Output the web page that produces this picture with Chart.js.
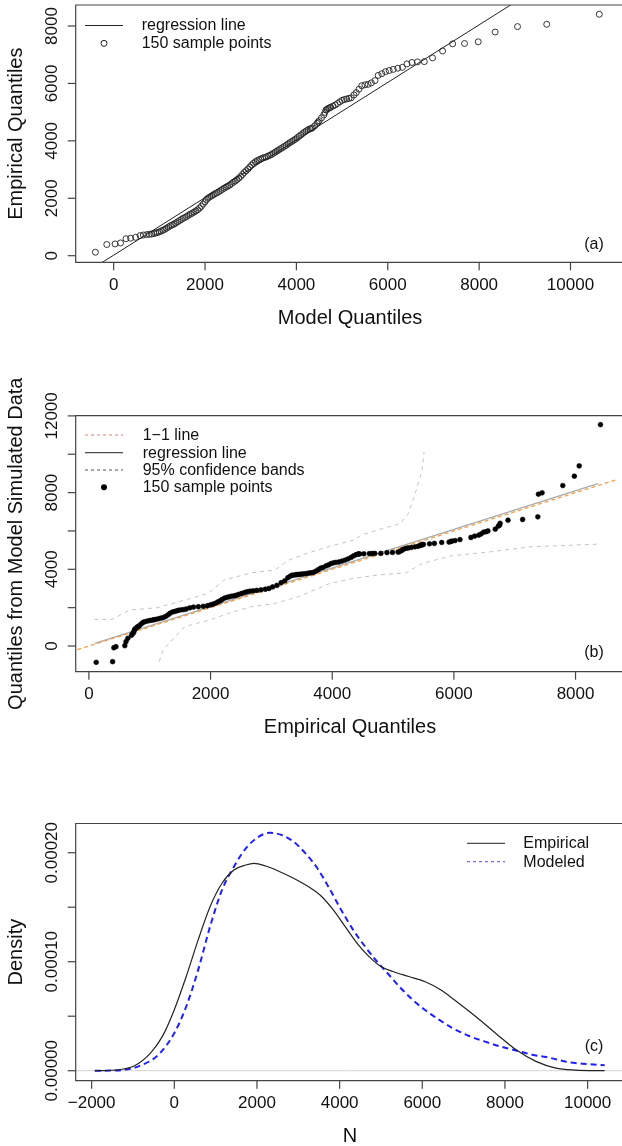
<!DOCTYPE html>
<html>
<head>
<meta charset="utf-8">
<script src="https://cdn.jsdelivr.net/npm/chart.js@4.4.0/dist/chart.umd.min.js"></script>
<style>
  html, body { margin: 0; padding: 0; background: #fff; }
  .panel { position: absolute; left: 0; width: 622px; }
  canvas { display: block; }
</style>
</head>
<body>
<div class="panel" style="top:0px"><canvas id="qqModel" width="622" height="340"></canvas></div>
<div class="panel" style="top:340px"><canvas id="qqSim" width="622" height="420"></canvas></div>
<div class="panel" style="top:760px"><canvas id="density" width="622" height="386"></canvas></div>
<script>
// ---- data ----
// (a) model quantiles vs empirical quantiles, 150 sample points
const modelQuantiles = [
  -400, -150, 30, 150, 270, 370, 480, 580, 650, 720,
  780, 830, 880, 920, 960, 1000, 1040, 1080, 1120, 1160,
  1200, 1240, 1280, 1320, 1360, 1400, 1440, 1480, 1520, 1560,
  1600, 1640, 1680, 1720, 1760, 1800, 1840, 1880, 1920, 1960,
  2000, 2030, 2060, 2100, 2140, 2180, 2220, 2260, 2300, 2340,
  2380, 2420, 2460, 2500, 2540, 2580, 2620, 2660, 2700, 2740,
  2780, 2820, 2860, 2900, 2940, 2980, 3020, 3060, 3100, 3140,
  3180, 3220, 3260, 3300, 3340, 3380, 3420, 3460, 3500, 3540,
  3580, 3620, 3660, 3700, 3740, 3780, 3820, 3860, 3900, 3940,
  3980, 4020, 4060, 4100, 4140, 4180, 4220, 4260, 4300, 4325,
  4350, 4400, 4450, 4475, 4500, 4550, 4600, 4625, 4650, 4675,
  4700, 4725, 4750, 4800, 4850, 4900, 4950, 5000, 5050, 5100,
  5150, 5200, 5260, 5310, 5370, 5430, 5500, 5570, 5640, 5720,
  5790, 5870, 5950, 6030, 6120, 6220, 6320, 6420, 6530, 6650,
  6800, 6980, 7200, 7420, 7680, 7980, 8350, 8840, 9480, 10630
];
const empiricalQuantiles = [
  120, 390, 410, 445, 590, 610, 640, 700, 720, 735,
  745, 755, 770, 790, 810, 830, 860, 890, 920, 960,
  1000, 1040, 1070, 1100, 1140, 1180, 1220, 1260, 1300, 1330,
  1370, 1410, 1450, 1480, 1520, 1560, 1600, 1660, 1720, 1800,
  1880, 1950, 2000, 2040, 2080, 2120, 2160, 2190, 2230, 2270,
  2310, 2350, 2390, 2420, 2460, 2510, 2560, 2600, 2650, 2700,
  2760, 2830, 2900, 2960, 3020, 3090, 3160, 3220, 3270, 3310,
  3340, 3370, 3400, 3420, 3440, 3470, 3500, 3530, 3570, 3610,
  3650, 3690, 3730, 3770, 3810, 3850, 3900, 3940, 3980, 4020,
  4060, 4110, 4160, 4210, 4260, 4310, 4350, 4390, 4420, 4435,
  4450, 4520, 4610, 4655, 4700, 4800, 4900, 4990, 5080, 5100,
  5130, 5150, 5170, 5210, 5250, 5300, 5360, 5410, 5440, 5460,
  5480, 5500, 5600, 5680, 5800, 5920, 5950, 5970, 6020, 6100,
  6280, 6340, 6410, 6450, 6490, 6530, 6560, 6680, 6730, 6750,
  6760, 6890, 7130, 7380, 7390, 7450, 7790, 7980, 8060, 8410
];
// (b) quantiles from model simulated data, paired with empiricalQuantiles
const simulatedQuantiles = [
  -850, -816, -90, -35, 17, 226, 399, 560, 650, 700,
  800, 880, 920, 980, 1010, 1060, 1150, 1230, 1270, 1300,
  1330, 1350, 1370, 1390, 1420, 1450, 1480, 1540, 1620, 1700,
  1770, 1800, 1840, 1870, 1890, 1900, 1930, 1990, 2030, 2048,
  2070, 2100, 2150, 2180, 2230, 2300, 2360, 2430, 2500, 2540,
  2570, 2600, 2620, 2640, 2690, 2740, 2790, 2830, 2860, 2880,
  2900, 2930, 2960, 3000, 3080, 3160, 3300, 3400, 3560, 3640,
  3690, 3700, 3715, 3725, 3730, 3740, 3750, 3765, 3780, 3800,
  3820, 3840, 3900, 3980, 4060, 4100, 4180, 4230, 4300, 4340,
  4360, 4380, 4430, 4480, 4540, 4620, 4700, 4760, 4790, 4800,
  4800, 4810, 4820, 4825, 4826, 4830, 4870, 4880, 4900, 4910,
  4960, 5000, 5050, 5090, 5110, 5140, 5170, 5200, 5240, 5260,
  5280, 5300, 5330, 5350, 5400, 5420, 5450, 5470, 5500, 5550,
  5659, 5729, 5781, 5850, 5937, 5960, 6000, 6093, 6250, 6300,
  6400, 6562, 6597, 6736, 7916, 7986, 8368, 8854, 9392, 11544
];
if (modelQuantiles.length !== empiricalQuantiles.length || simulatedQuantiles.length !== empiricalQuantiles.length) {
  throw new Error('length mismatch ' + modelQuantiles.length + ' ' + empiricalQuantiles.length + ' ' + simulatedQuantiles.length);
}

// regression lines (end points)
const regModelX = [-900, 11100];
const regModelY = [-884, 11150];
const oneToOneX = [-300, 8800];
const oneToOneY = [-300, 8800];
const regSimX = [97, 8368];
const regSimY = [136, 8473];

// 95% confidence bands
const upperBandX = [90, 380, 671, 1123, 1574, 1961, 2219, 2671, 3058, 3284, 3574, 4026, 4348, 4477, 4735, 5123, 5252, 5381, 5477, 5510];
const upperBandY = [1389, 1389, 1875, 1996, 2396, 2743, 3437, 3819, 3958, 4479, 4826, 5260, 5520, 5781, 6041, 6388, 6909, 8125, 9166, 10121];
const lowerBandX = [1155, 1219, 1316, 1574, 1768, 1994, 2284, 2671, 3058, 3445, 3961, 4348, 4735, 5219, 5477, 5961, 6606, 7252, 8368];
const lowerBandY = [-816, -208, 139, 1007, 1180, 1354, 1701, 2048, 2222, 2569, 3264, 3524, 3698, 3819, 4305, 4705, 4913, 5173, 5312];

// (c) density curves
const empiricalN = [-1923, -1346, -962, -577, -288, 0, 288, 577, 865, 1154, 1442, 1731, 1923, 2211, 2500, 2885, 3269, 3558, 3846, 4135, 4423, 4712, 5000, 5288, 5673, 6058, 6442, 6827, 7308, 7788, 8269, 8750, 9231, 9712, 10413];
const empiricalDensity = [0, 0.0000009, 0.0000046, 0.0000162, 0.0000315, 0.000056, 0.0000864, 0.00012, 0.0001505, 0.000172, 0.0001841, 0.0001887, 0.0001902, 0.0001878, 0.0001835, 0.0001765, 0.0001682, 0.00016, 0.0001475, 0.0001322, 0.0001169, 0.0001047, 0.0000956, 0.000091, 0.0000864, 0.0000818, 0.0000742, 0.0000635, 0.0000492, 0.0000339, 0.0000192, 0.0000086, 0.0000024, 0.0000006, 0];
const modeledN = [-1923, -1346, -865, -385, 0, 288, 577, 865, 1154, 1442, 1731, 2019, 2308, 2596, 2885, 3173, 3462, 3750, 4038, 4327, 4615, 4904, 5192, 5481, 5769, 6058, 6346, 6731, 7115, 7500, 7885, 8269, 8654, 9000, 9567, 9990, 10413];
const modeledDensity = [0, 0.0000003, 0.000004, 0.0000147, 0.0000345, 0.0000589, 0.0000925, 0.0001322, 0.0001658, 0.0001872, 0.000204, 0.0002141, 0.0002183, 0.0002162, 0.0002101, 0.0001994, 0.0001857, 0.0001673, 0.0001475, 0.0001292, 0.0001139, 0.0001002, 0.000088, 0.0000757, 0.000065, 0.0000559, 0.0000482, 0.0000391, 0.0000321, 0.0000269, 0.0000223, 0.0000186, 0.0000147, 0.0000125, 0.0000076, 0.0000061, 0.0000049];

// tick labels
const ticksA_x = [0, 2000, 4000, 6000, 8000, 10000];
const labelsA_x = ['0', '2000', '4000', '6000', '8000', '10000'];
const ticksA_y = [0, 2000, 4000, 6000, 8000];
const labelsA_y = ['0', '2000', '4000', '6000', '8000'];
const ticksB_x = [0, 2000, 4000, 6000, 8000];
const labelsB_x = ['0', '2000', '4000', '6000', '8000'];
const ticksB_y = [0, 2000, 4000, 6000, 8000, 10000, 12000];
const labelsB_y = ['0', '', '4000', '', '8000', '', '12000'];
const ticksC_x = [-2000, 0, 2000, 4000, 6000, 8000, 10000];
const labelsC_x = ['\u22122000', '0', '2000', '4000', '6000', '8000', '10000'];
const ticksC_y = [0, 0.00005, 0.0001, 0.00015, 0.0002];
const labelsC_y = ['0.00000', '', '0.00010', '', '0.00020'];

// ---- helpers ----
const FONT = "'Liberation Sans', Arial, Helvetica, sans-serif";
const pts = (xs, ys) => xs.map((x, i) => ({ x: x, y: ys[i] }));

// R-style box, ticks, labels, titles and legend
function rStyle(spec) {
  return {
    id: 'rStyle',
    beforeDatasetsDraw(chart) {
      if (!spec.zeroLine) return;
      const { ctx, chartArea: a, scales: { y } } = chart;
      const py = y.getPixelForValue(0);
      ctx.save();
      ctx.strokeStyle = '#d4d4d4';
      ctx.lineWidth = 1;
      ctx.beginPath();
      ctx.moveTo(a.left, py);
      ctx.lineTo(chart.width, py);
      ctx.stroke();
      ctx.restore();
    },
    afterDraw(chart) {
      const { ctx, chartArea: a, scales: { x, y } } = chart;
      ctx.save();
      ctx.strokeStyle = '#444';
      ctx.lineWidth = 1.2;
      ctx.beginPath();
      ctx.moveTo(chart.width, a.top);
      ctx.lineTo(a.left, a.top);
      ctx.lineTo(a.left, a.bottom);
      ctx.lineTo(chart.width, a.bottom);
      ctx.stroke();

      ctx.fillStyle = '#111';
      ctx.font = '17px ' + FONT;
      ctx.textAlign = 'center';
      ctx.textBaseline = 'middle';
      spec.xTicks.forEach((v, i) => {
        const px = x.getPixelForValue(v);
        ctx.beginPath();
        ctx.moveTo(px, a.bottom);
        ctx.lineTo(px, a.bottom + 8);
        ctx.stroke();
        if (spec.xLabels[i]) ctx.fillText(spec.xLabels[i], px, a.bottom + 23);
      });
      spec.yTicks.forEach((v, i) => {
        const py = y.getPixelForValue(v);
        ctx.beginPath();
        ctx.moveTo(a.left, py);
        ctx.lineTo(a.left - 8, py);
        ctx.stroke();
        if (spec.yLabels[i]) {
          ctx.save();
          ctx.translate(52, py);
          ctx.rotate(-Math.PI / 2);
          ctx.fillText(spec.yLabels[i], 0, 0);
          ctx.restore();
        }
      });

      ctx.font = '20px ' + FONT;
      ctx.fillText(spec.xTitle, 350, a.bottom + 56);
      ctx.save();
      ctx.translate(16, (a.top + a.bottom) / 2);
      ctx.rotate(-Math.PI / 2);
      ctx.fillText(spec.yTitle, 0, 0);
      ctx.restore();

      ctx.font = '16px ' + FONT;
      ctx.fillText(spec.tag, spec.tagPos[0], spec.tagPos[1]);

      const lg = spec.legend;
      ctx.textAlign = 'left';
      lg.items.forEach(it => {
        ctx.save();
        if (it.kind === 'line') {
          ctx.strokeStyle = it.color;
          ctx.lineWidth = it.width || 1;
          ctx.setLineDash(it.dash || []);
          ctx.beginPath();
          ctx.moveTo(lg.x0, it.y);
          ctx.lineTo(lg.x1, it.y);
          ctx.stroke();
        } else {
          ctx.beginPath();
          ctx.arc((lg.x0 + lg.x1) / 2, it.y, it.r, 0, Math.PI * 2);
          if (it.kind === 'dot') { ctx.fillStyle = it.color; ctx.fill(); }
          else { ctx.strokeStyle = it.color; ctx.lineWidth = 1; ctx.stroke(); }
        }
        ctx.restore();
        ctx.fillStyle = '#111';
        ctx.fillText(it.text, lg.textX, it.y + 0.5);
      });
      ctx.restore();
    }
  };
}

function baseOptions(pad, xr, yr) {
  return {
    responsive: false,
    animation: false,
    devicePixelRatio: 1,
    events: [],
    layout: { padding: { left: 75.7, right: 0, top: pad.top, bottom: pad.bottom } },
    plugins: { legend: { display: false }, tooltip: { enabled: false } },
    scales: {
      x: { type: 'linear', display: false, min: xr[0], max: xr[1] },
      y: { type: 'linear', display: false, min: yr[0], max: yr[1] }
    }
  };
}

// ---- (a) ----
new Chart(document.getElementById('qqModel'), {
  type: 'scatter',
  data: {
    datasets: [
      {
        label: '150 sample points',
        data: pts(modelQuantiles, empiricalQuantiles),
        pointRadius: 3,
        pointBorderWidth: 0.9,
        pointBorderColor: '#222',
        pointBackgroundColor: 'rgba(0,0,0,0)'
      },
      {
        label: 'regression line',
        data: pts(regModelX, regModelY),
        showLine: true,
        pointRadius: 0,
        borderColor: '#222',
        borderWidth: 1
      }
    ]
  },
  options: baseOptions({ top: 5, bottom: 77.7 }, [-831, 11020], [-230, 8732]),
  plugins: [rStyle({
    xTicks: ticksA_x, xLabels: labelsA_x, yTicks: ticksA_y, yLabels: labelsA_y,
    xTitle: 'Model Quantiles', yTitle: 'Empirical Quantiles',
    tag: '(a)', tagPos: [594, 245],
    legend: {
      x0: 85, x1: 123, textX: 141.7,
      items: [
        { kind: 'line', color: '#222', y: 25.5, text: 'regression line' },
        { kind: 'circle', color: '#222', r: 3, y: 43.3, text: '150 sample points' }
      ]
    }
  })]
});

// ---- (b) ----
new Chart(document.getElementById('qqSim'), {
  type: 'scatter',
  data: {
    datasets: [
      {
        label: '150 sample points',
        data: pts(empiricalQuantiles, simulatedQuantiles),
        pointRadius: 2.4,
        pointBorderWidth: 0.6,
        pointBorderColor: '#000',
        pointBackgroundColor: '#000'
      },
      {
        label: '1-1 line',
        data: pts(oneToOneX, oneToOneY),
        showLine: true,
        pointRadius: 0,
        borderColor: '#f5a04a',
        borderWidth: 1.3,
        borderDash: [4, 3]
      },
      {
        label: 'regression line',
        data: pts(regSimX, regSimY),
        showLine: true,
        pointRadius: 0,
        borderColor: '#aaaaaa',
        borderWidth: 1.3
      },
      {
        label: 'upper band',
        data: pts(upperBandX, upperBandY),
        showLine: true,
        pointRadius: 0,
        borderColor: '#c4c4c4',
        borderWidth: 1,
        borderDash: [4, 4]
      },
      {
        label: 'lower band',
        data: pts(lowerBandX, lowerBandY),
        showLine: true,
        pointRadius: 0,
        borderColor: '#c4c4c4',
        borderWidth: 1,
        borderDash: [4, 4]
      }
    ]
  },
  options: baseOptions({ top: 75.7, bottom: 88.3 }, [-217, 8688], [-1339, 12010]),
  plugins: [rStyle({
    xTicks: ticksB_x, xLabels: labelsB_x, yTicks: ticksB_y, yLabels: labelsB_y,
    xTitle: 'Empirical Quantiles', yTitle: 'Quantiles from Model Simulated Data',
    tag: '(b)', tagPos: [594, 313],
    legend: {
      x0: 85, x1: 123, textX: 142.7,
      items: [
        { kind: 'line', color: '#f07a6a', dash: [3, 3], y: 95, text: '1\u22121 line' },
        { kind: 'line', color: '#222', y: 112.7, text: 'regression line' },
        { kind: 'line', color: '#555', dash: [3, 3], y: 130, text: '95% confidence bands' },
        { kind: 'dot', color: '#000', r: 3, y: 147.3, text: '150 sample points' }
      ]
    }
  })]
});

// ---- (c) ----
new Chart(document.getElementById('density'), {
  type: 'scatter',
  data: {
    datasets: [
      {
        label: 'Empirical',
        data: pts(empiricalN, empiricalDensity),
        showLine: true,
        pointRadius: 0,
        borderColor: '#222',
        borderWidth: 1.2,
        cubicInterpolationMode: 'monotone'
      },
      {
        label: 'Modeled',
        data: pts(modeledN, modeledDensity),
        showLine: true,
        pointRadius: 0,
        borderColor: '#1f1fff',
        borderWidth: 2,
        borderDash: [6, 4],
        cubicInterpolationMode: 'monotone'
      }
    ]
  },
  options: baseOptions({ top: 63.5, bottom: 65.3 }, [-2386, 10832], [-0.00000917, 0.0002268]),
  plugins: [rStyle({
    zeroLine: true,
    xTicks: ticksC_x, xLabels: labelsC_x, yTicks: ticksC_y, yLabels: labelsC_y,
    xTitle: 'N', yTitle: 'Density',
    tag: '(c)', tagPos: [594, 286.7],
    legend: {
      x0: 467, x1: 505, textX: 523.3,
      items: [
        { kind: 'line', color: '#222', y: 83.3, text: 'Empirical' },
        { kind: 'line', color: '#4a4aff', dash: [3, 3], y: 101.7, text: 'Modeled' }
      ]
    }
  })]
});
</script>
</body>
</html>
